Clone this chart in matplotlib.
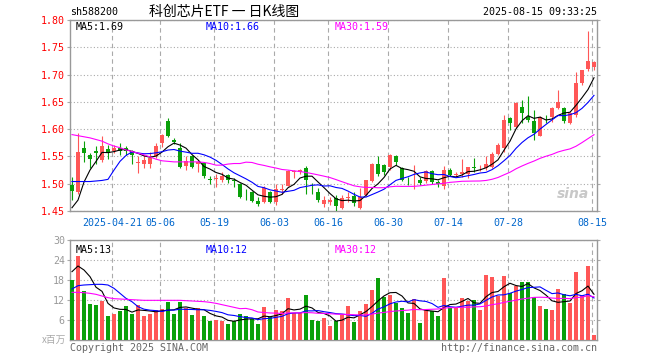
import numpy as np
import pandas as pd
import matplotlib
matplotlib.use("Agg")
import matplotlib.pyplot as plt

# ---- data (sh588200, daily K) ----
holidays = ["2025-05-01", "2025-05-02", "2025-05-05", "2025-06-02"]

open_ = [1.498, 1.485, 1.565, 1.553, 1.560, 1.543, 1.563, 1.560, 1.565, 1.566,
         1.560, 1.538, 1.537, 1.537, 1.550, 1.574, 1.615, 1.580, 1.566, 1.533,
         1.550, 1.537, 1.538, 1.508, 1.509, 1.507, 1.516, 1.506, 1.500, 1.487,
         1.484, 1.469, 1.466, 1.484, 1.467, 1.489, 1.496, 1.521, 1.521, 1.528,
         1.491, 1.485, 1.463, 1.467, 1.473, 1.455, 1.474, 1.478, 1.455, 1.479,
         1.505, 1.536, 1.534, 1.530, 1.551, 1.528, 1.509, 1.506, 1.507, 1.505,
         1.524, 1.504, 1.495, 1.525, 1.516, 1.517, 1.517, 1.530, 1.528, 1.528,
         1.530, 1.554, 1.565, 1.620, 1.604, 1.640, 1.623, 1.615, 1.587, 1.623,
         1.622, 1.638, 1.638, 1.612, 1.626, 1.684, 1.710, 1.714]
high = [1.513, 1.593, 1.579, 1.557, 1.570, 1.587, 1.571, 1.571, 1.575, 1.569,
        1.562, 1.551, 1.553, 1.559, 1.574, 1.592, 1.621, 1.583, 1.574, 1.550,
        1.553, 1.543, 1.540, 1.514, 1.518, 1.522, 1.517, 1.510, 1.501, 1.490,
        1.486, 1.475, 1.495, 1.486, 1.500, 1.499, 1.525, 1.526, 1.527, 1.532,
        1.501, 1.492, 1.477, 1.476, 1.479, 1.479, 1.485, 1.485, 1.492, 1.507,
        1.538, 1.551, 1.537, 1.554, 1.553, 1.531, 1.513, 1.534, 1.512, 1.525,
        1.526, 1.506, 1.532, 1.528, 1.521, 1.545, 1.530, 1.548, 1.535, 1.551,
        1.559, 1.574, 1.626, 1.623, 1.650, 1.653, 1.661, 1.635, 1.625, 1.626,
        1.640, 1.672, 1.640, 1.632, 1.705, 1.709, 1.780, 1.725]
low = [1.470, 1.482, 1.539, 1.528, 1.537, 1.540, 1.545, 1.556, 1.553, 1.553,
       1.537, 1.519, 1.528, 1.528, 1.547, 1.568, 1.586, 1.573, 1.528, 1.525,
       1.528, 1.522, 1.510, 1.499, 1.494, 1.504, 1.501, 1.494, 1.473, 1.471,
       1.467, 1.459, 1.464, 1.464, 1.461, 1.482, 1.495, 1.510, 1.518, 1.482,
       1.482, 1.467, 1.457, 1.461, 1.450, 1.453, 1.467, 1.459, 1.453, 1.478,
       1.504, 1.514, 1.516, 1.526, 1.534, 1.505, 1.497, 1.491, 1.498, 1.502,
       1.499, 1.494, 1.491, 1.514, 1.513, 1.513, 1.510, 1.522, 1.524, 1.525,
       1.529, 1.553, 1.559, 1.598, 1.603, 1.611, 1.614, 1.581, 1.587, 1.611,
       1.614, 1.636, 1.611, 1.610, 1.623, 1.681, 1.707, 1.709]
close = [1.487, 1.559, 1.557, 1.545, 1.556, 1.570, 1.557, 1.566, 1.560, 1.560,
         1.553, 1.539, 1.543, 1.548, 1.570, 1.590, 1.588, 1.576, 1.530, 1.542,
         1.531, 1.540, 1.515, 1.506, 1.511, 1.514, 1.506, 1.505, 1.475, 1.486,
         1.469, 1.463, 1.492, 1.467, 1.490, 1.490, 1.524, 1.523, 1.525, 1.507,
         1.490, 1.471, 1.471, 1.471, 1.459, 1.473, 1.475, 1.464, 1.475, 1.506,
         1.536, 1.518, 1.522, 1.553, 1.539, 1.507, 1.508, 1.507, 1.502, 1.524,
         1.504, 1.499, 1.526, 1.516, 1.517, 1.522, 1.530, 1.529, 1.529, 1.536,
         1.554, 1.571, 1.617, 1.612, 1.648, 1.629, 1.617, 1.593, 1.623, 1.622,
         1.638, 1.650, 1.615, 1.630, 1.685, 1.708, 1.725, 1.723]
# volume, millions of shares
volume = [18.0, 25.3, 14.7, 10.8, 10.4, 11.8, 7.2, 7.9, 8.7, 10.2,
          7.8, 10.5, 7.2, 7.8, 9.0, 9.3, 11.4, 7.8, 11.4, 9.7,
          7.5, 9.7, 7.2, 5.8, 6.0, 5.7, 4.8, 5.8, 7.8, 7.2,
          6.2, 4.8, 9.9, 6.8, 9.0, 8.7, 12.6, 8.0, 8.0, 13.5,
          6.0, 5.8, 6.5, 4.2, 5.8, 7.5, 10.2, 5.5, 8.7, 10.8,
          15.0, 18.6, 13.0, 13.5, 11.2, 9.7, 8.2, 12.3, 5.2, 9.0,
          8.7, 7.2, 18.6, 9.7, 9.7, 12.6, 11.7, 12.0, 9.0, 19.6,
          18.9, 13.2, 19.2, 14.2, 16.2, 17.5, 17.5, 12.8, 10.2, 9.3,
          9.0, 15.2, 13.8, 11.2, 20.5, 13.2, 22.2, 1.5]

# moving-average values at the left edge (window reaches before the first day shown)
ma5_head = [1.456, 1.470, 1.503, 1.525]
ma10_head = [1.504, 1.504, 1.504, 1.504, 1.505, 1.506, 1.508, 1.525, 1.541]
ma30_head = [1.590, 1.588, 1.586, 1.584, 1.581, 1.578, 1.573, 1.569, 1.566, 1.562,
             1.559, 1.556, 1.553, 1.549, 1.545, 1.542, 1.541, 1.540, 1.540, 1.540,
             1.540, 1.540, 1.539, 1.537, 1.534, 1.534, 1.536, 1.537, 1.537]
vma5_head = [20.5, 22.2, 21.0, 19.0]
vma10_head = [15.3, 16.3, 16.5, 16.6, 16.7, 16.7, 16.5, 15.5, 14.0]
vma30_head = [14.3, 14.3, 14.2, 14.0, 13.7, 13.2, 12.7, 12.4, 12.3, 12.2,
              12.1, 12.0, 11.9, 11.9, 11.9, 11.9, 11.9, 11.9, 11.9, 11.8,
              11.7, 11.6, 11.5, 11.3, 11.0, 10.6, 10.2, 9.8, 9.4]

label_dates = ["2025-04-21", "2025-05-06", "2025-05-19", "2025-06-03", "2025-06-16",
               "2025-06-30", "2025-07-14", "2025-07-28", "2025-08-15"]
price_levels = [1.45, 1.50, 1.55, 1.60, 1.65, 1.70, 1.75, 1.80]
vol_levels = [6, 12, 18, 24, 30]

# ---- build frame ----
dates = pd.bdate_range("2025-04-10", "2025-08-15")
dates = dates[~dates.isin(pd.to_datetime(holidays))]
df = pd.DataFrame({"open": open_, "high": high, "low": low, "close": close,
                   "volume": volume}, index=dates)


def moving(series, n, head):
    m = series.rolling(n).mean().to_numpy()
    m[:len(head)] = head
    return m


ma5 = moving(df["close"], 5, ma5_head)
ma10 = moving(df["close"], 10, ma10_head)
ma30 = moving(df["close"], 30, ma30_head)
vma5 = moving(df["volume"], 5, vma5_head)
vma10 = moving(df["volume"], 10, vma10_head)
vma30 = moving(df["volume"], 30, vma30_head)

RED = "#ff5757"
GREEN = "#0aa00a"
GRID = "#aaaaaa"
MONO = "DejaVu Sans Mono"
CJK = ["Noto Sans CJK SC", "DejaVu Sans"]
FS = 7.2

W, H = 660, 360
fig = plt.figure(figsize=(6.6, 3.6), dpi=100)
fig.patch.set_facecolor("white")


def rect(x0, y0, x1, y1):
    return [x0 / W, 1 - y1 / H, (x1 - x0) / W, (y1 - y0) / H]


def px(x, y):
    return x / W, 1 - y / H


ax = fig.add_axes(rect(70, 20, 597, 211))
axv = fig.add_axes(rect(70, 240, 597, 340))

x = np.arange(len(df))
up = (df["close"] >= df["open"]).to_numpy()
colors = np.where(up, RED, GREEN)
grid_x = [df.index.get_loc(pd.Timestamp(d)) - 1 / 3 for d in label_dates]
grid_lbl = [label_dates[0]] + [d[5:] for d in label_dates[1:]]

# ---- price panel ----
ax.vlines(x, df["low"], df["high"], colors=colors, linewidth=0.8, zorder=3)
body = (df["close"] - df["open"]).abs().clip(lower=0.0009)
ax.bar(x, body, bottom=np.minimum(df["open"], df["close"]), width=0.78,
       color=colors, linewidth=0, zorder=3)
ax.plot(x, ma5, color="black", lw=0.8, zorder=4)
ax.plot(x, ma10, color="#0000ff", lw=0.8, zorder=4)
ax.plot(x, ma30, color="#ff00ff", lw=0.8, zorder=4)

ax.set_xlim(-1 / 3, 87.5)
ax.set_ylim(1.45, 1.80)
ax.set_yticks(price_levels)
ax.set_yticklabels([f"{v:.2f}" for v in price_levels], fontfamily=MONO,
                   fontsize=FS, color="#ff0000")
ax.set_xticks(grid_x)
ax.set_xticklabels(grid_lbl, fontfamily=MONO, fontsize=FS, color="#0066cc")
ax.tick_params(axis="x", length=0, pad=5)
ax.tick_params(axis="y", length=2.2, pad=1.5, color=GRID, right=True)
ax.yaxis.grid(True, color=GRID, linestyle=(0, (1, 2)), linewidth=0.8)
ax.xaxis.grid(True, color=GRID, linestyle=(0, (4, 3)), linewidth=0.8)
ax.set_axisbelow(True)
for s in ax.spines.values():
    s.set_color("#999999")
    s.set_linewidth(1)

ax.text(0.01, 0.965, "MA5:1.69", transform=ax.transAxes, fontfamily=MONO,
        fontsize=FS, color="black", va="center")
ax.text(0.257, 0.965, "MA10:1.66", transform=ax.transAxes, fontfamily=MONO,
        fontsize=FS, color="#0000ff", va="center")
ax.text(0.503, 0.965, "MA30:1.59", transform=ax.transAxes, fontfamily=MONO,
        fontsize=FS, color="#ff00ff", va="center")
ax.text(0.985, 0.09, "sina", transform=ax.transAxes, fontsize=10, color="#c8c8c8",
        style="italic", weight="bold", ha="right", va="center", zorder=1)

# ---- volume panel ----
axv.bar(x, df["volume"], width=0.78, color=colors, linewidth=0, zorder=3)
axv.plot(x, vma5, color="black", lw=0.8, zorder=4)
axv.plot(x, vma10, color="#0000ff", lw=0.8, zorder=4)
axv.plot(x, vma30, color="#ff00ff", lw=0.8, zorder=4)
axv.set_xlim(-1 / 3, 87.5)
axv.set_ylim(0, 30)
axv.set_yticks(vol_levels)
axv.set_yticklabels([str(v) for v in vol_levels], fontfamily=MONO, fontsize=FS,
                    color="#999999")
axv.set_xticks(grid_x)
axv.set_xticklabels([])
axv.tick_params(axis="x", length=0)
axv.tick_params(axis="y", length=2.2, pad=1.5, color=GRID, right=True)
axv.yaxis.grid(True, color=GRID, linestyle=(0, (1, 2)), linewidth=0.8)
axv.xaxis.grid(True, color=GRID, linestyle=(0, (4, 3)), linewidth=0.8)
axv.set_axisbelow(True)
for s in axv.spines.values():
    s.set_color("#999999")
    s.set_linewidth(1)

axv.text(0.01, 0.9, "MA5:13", transform=axv.transAxes, fontfamily=MONO,
         fontsize=FS, color="black", va="center")
axv.text(0.257, 0.9, "MA10:12", transform=axv.transAxes, fontfamily=MONO,
         fontsize=FS, color="#0000ff", va="center")
axv.text(0.503, 0.9, "MA30:12", transform=axv.transAxes, fontfamily=MONO,
         fontsize=FS, color="#ff00ff", va="center")

# ---- header / footer texts ----
fig.text(*px(70, 12), "sh588200", fontfamily=MONO, fontsize=FS, va="center")
fig.text(*px(224, 12), "科创芯片ETF 一 日K线图", family=CJK, fontsize=10,
         ha="center", va="center")
fig.text(*px(597, 12), "2025-08-15 09:33:25", fontfamily=MONO, fontsize=FS,
         ha="right", va="center")
fig.text(*px(66, 340), "x百万", family=CJK, fontsize=7, color="#aaaaaa",
         ha="right", va="center")
fig.text(*px(70, 348), "Copyright 2025 SINA.COM", fontfamily=MONO, fontsize=FS,
         color="#666666", va="center")
fig.text(*px(597, 348), "http://finance.sina.com.cn", fontfamily=MONO, fontsize=FS,
         color="#666666", ha="right", va="center")

fig.savefig("out.png", dpi=100)
